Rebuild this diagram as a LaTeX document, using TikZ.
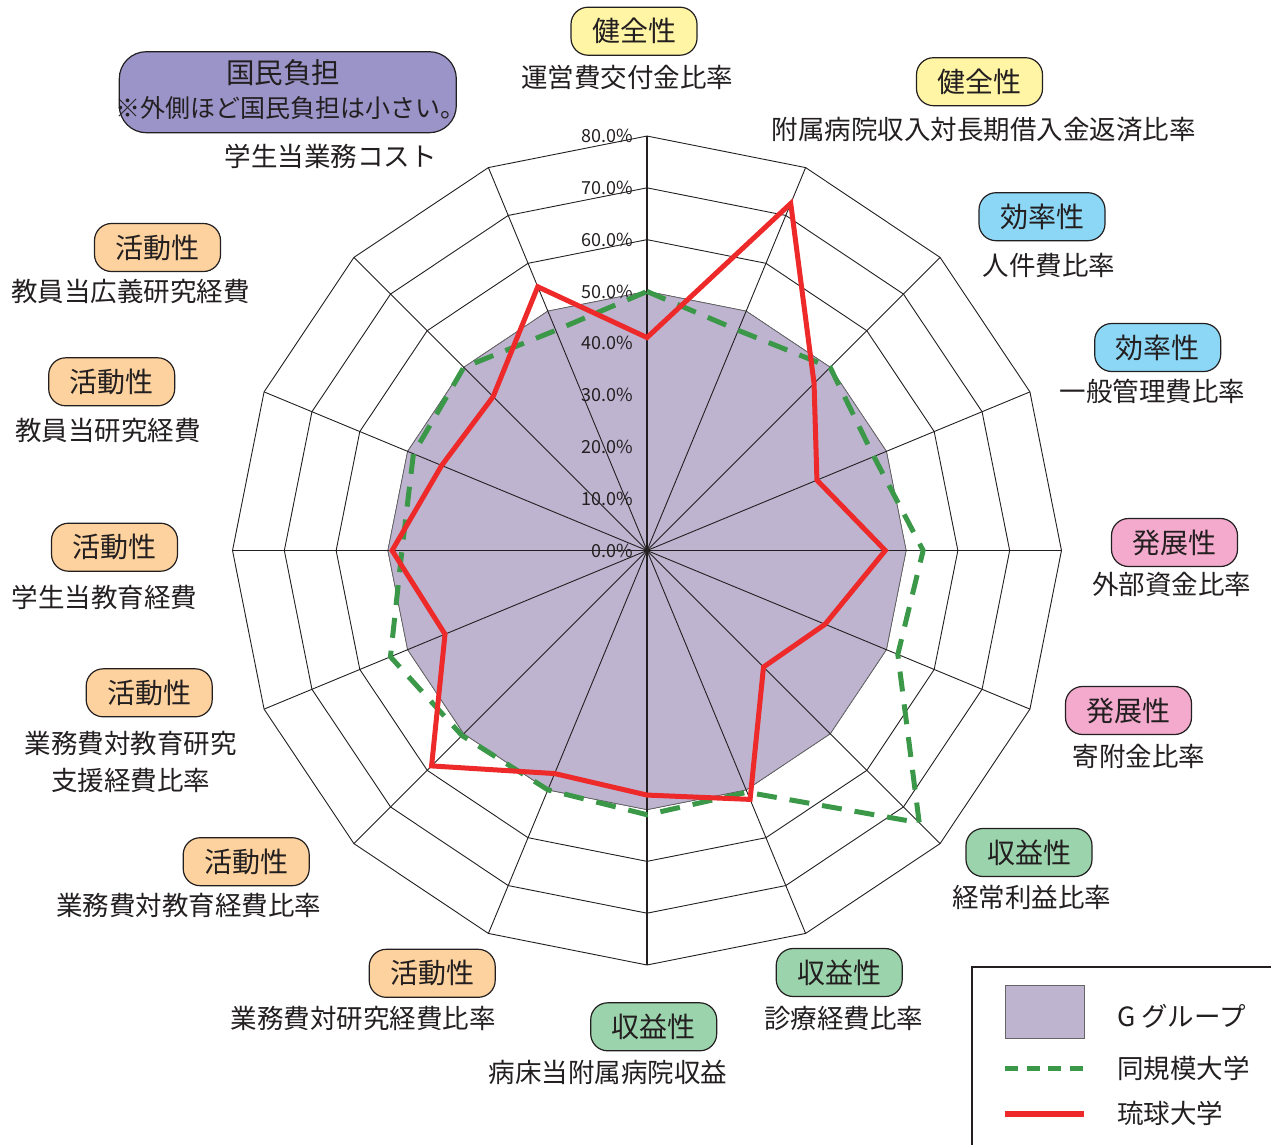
\documentclass[tikz,border=0pt]{standalone}
\usepackage{fontspec}
\setmainfont{Noto Sans CJK JP}
\definecolor{txt}{HTML}{231F20}
\definecolor{gfill}{RGB}{190,180,208}
\definecolor{dgreen}{RGB}{58,152,72}
\definecolor{rred}{RGB}{237,41,42}
\definecolor{yel}{RGB}{255,245,165}
\definecolor{blu}{RGB}{140,215,245}
\definecolor{pnk}{RGB}{243,170,205}
\definecolor{org}{RGB}{253,210,158}
\definecolor{grn}{RGB}{155,212,172}
\definecolor{pur}{RGB}{155,148,200}
\begin{document}
\begin{tikzpicture}[x=1pt,y=-1pt,
  cat/.style={draw=txt, line width=1.2pt, rounded corners=17pt, minimum width=126pt, minimum height=48pt, inner sep=0pt, font=\fontsize{28}{30}\selectfont, text=txt, text height=23.2pt, text depth=2pt},
  lbl/.style={inner sep=0pt, font=\fontsize{26.5}{30}\selectfont, text=txt, text height=22pt, text depth=1.9pt},
  tick/.style={inner sep=0pt, font=\fontsize{18}{20}\selectfont, text=txt, anchor=east},
  gridline/.style={line width=0.9pt, draw=txt},
  spoke/.style={line width=0.9pt, draw=txt},
  grp/.style={fill=gfill, draw=black!60, line width=0.6pt},
  sim/.style={draw=dgreen, line width=5pt, dash pattern=on 20pt off 13pt},
  ryu/.style={draw=rred, line width=5pt, line join=miter}
]
\useasboundingbox (0,0) rectangle (1271,1144);

\begin{scope}[shift={(647,550.5)}]
\def\s{5.181}
% rings
\foreach \k in {1,...,8}{
  \pgfmathsetmacro\r{\k*10*\s}
  \draw[gridline] (0,-\r) \foreach \a in {22.5,45,...,337.5}{ -- ({\r*sin(\a)},{-\r*cos(\a)}) } -- cycle;
}
% G group polygon
\draw[grp] (0,{-50*\s}) \foreach \a in {22.5,45,...,337.5}{ -- ({50*\s*sin(\a)},{-50*\s*cos(\a)}) } -- cycle;
% spokes
\foreach \a in {22.5,45,...,337.5} \draw[spoke] (0,0) -- ({80*\s*sin(\a)},{-80*\s*cos(\a)});
\draw[line width=1.8pt, draw=txt] (0,{-80*\s}) -- (0,{80*\s});
% tick labels
\foreach \k in {0,...,8}{
  \pgfmathtruncatemacro\p{\k*10}
  \node[tick] (t\k) at (-14,{-\k*10*\s}) {\p.0\%};
}
% same-size universities
\foreach \v [count=\i from 0] in {50,46,50,47.4,53.3,52.4,74.3,50.5,51,50,50.5,53.6,47.3,48.8,50,46}
  \coordinate (g\i) at ({\v*\s*sin(22.5*\i)},{-\v*\s*cos(22.5*\i)});
\draw[sim] (g0) \foreach \i in {1,...,15}{ -- (g\i) } -- cycle;
% Ryukyu
\foreach \v [count=\i from 0] in {41.1,72.5,45.6,35.5,46,37.2,31.8,52,47.2,46.6,58.8,42.2,49.2,42.9,42,55.1}
  \coordinate (r\i) at ({\v*\s*sin(22.5*\i)},{-\v*\s*cos(22.5*\i)});
\draw[ryu] (r0) \foreach \i in {1,...,15}{ -- (r\i) } -- cycle;
\fill[txt] (0,0) circle (2.5pt);
\end{scope}

% category boxes and labels
\node[cat, fill=yel] (c0) at (634,31.2) {健全性};
\node[lbl] (l0) at (627,77) {運営費交付金比率};
\node[cat, fill=yel] (c1) at (979.5,81.7) {健全性};
\node[lbl] (l1) at (983.5,129) {附属病院収入対長期借入金返済比率};
\node[cat, fill=blu] (c2) at (1042,216.7) {効率性};
\node[lbl] (l2) at (1049,265) {人件費比率};
\node[cat, fill=blu] (c3) at (1157.7,347.5) {効率性};
\node[lbl] (l3) at (1152.5,391) {一般管理費比率};
\node[cat, fill=pnk] (c4) at (1174.5,542.5) {発展性};
\node[lbl] (l4) at (1171.7,584) {外部資金比率};
\node[cat, fill=pnk] (c5) at (1128.5,710.5) {発展性};
\node[lbl] (l5) at (1139,756) {寄附金比率};
\node[cat, fill=grn] (c6) at (1029,852.5) {収益性};
\node[lbl] (l6) at (1031.5,897) {経常利益比率};
\node[cat, fill=grn] (c7) at (839.2,972.5) {収益性};
\node[lbl] (l7) at (843.8,1018) {診療経費比率};
\node[cat, fill=grn] (c8) at (653.7,1026.8) {収益性};
\node[lbl] (l8) at (608,1072.5) {病床当附属病院収益};
\node[cat, fill=org] (c9) at (432.2,973.3) {活動性};
\node[lbl] (l9) at (363.3,1018.3) {業務費対研究経費比率};
\node[cat, fill=org] (c10) at (246.2,861.7) {活動性};
\node[lbl] (l10) at (188.7,905) {業務費対教育経費比率};
\node[cat, fill=org] (c11) at (149.2,692.8) {活動性};
\node[lbl] (l11a) at (130.8,743.3) {業務費対教育研究};
\node[lbl] (l11b) at (130.8,780) {支援経費比率};
\node[cat, fill=org] (c12) at (114.5,547.2) {活動性};
\node[lbl] (l12) at (104.5,597) {学生当教育経費};
\node[cat, fill=org] (c13) at (111.7,381.8) {活動性};
\node[lbl] (l13) at (107.8,430) {教員当研究経費};
\node[cat, fill=org] (c14) at (157.5,247.5) {活動性};
\node[lbl] (l14) at (130.5,291) {教員当広義研究経費};
\node[draw=txt, line width=1.2pt, fill=pur, rounded corners=27pt, minimum width=337pt, minimum height=81pt, inner sep=0pt] (c15) at (287.8,92.2) {};
\node[lbl, font=\fontsize{28.5}{30}\selectfont] (k1) at (283,73.7) {国民負担};
\node[lbl, font=\fontsize{25}{28}\selectfont] (k2) at (290,107.5) {※外側ほど国民負担は小さい。};
\node[lbl] (l15) at (330.8,156) {学生当業務コスト};

% legend
\draw[line width=1.2pt, draw=txt] (972,967) rectangle (1300,1170);
\node[draw=black!60, line width=0.8pt, fill=gfill, minimum width=79pt, minimum height=53pt, inner sep=0pt] (lg1) at (1044.5,1011.7) {};
\coordinate (lg2a) at (1005,1068);
\coordinate (lg2b) at (1084,1068);
\draw[draw=dgreen, line width=5pt, dash pattern=on 13pt off 8.5pt] (lg2a) -- (lg2b);
\coordinate (lg3a) at (1005,1114);
\coordinate (lg3b) at (1084,1114);
\draw[ryu, line width=6pt] (lg3a) -- (lg3b);
\node[lbl, anchor=west] (lt1) at (1117,1016.5) {G グループ};
\node[lbl, anchor=west] (lt2) at (1117,1068.5) {同規模大学};
\node[lbl, anchor=west] (lt3) at (1117,1113.5) {琉球大学};
\end{tikzpicture}
\end{document}
